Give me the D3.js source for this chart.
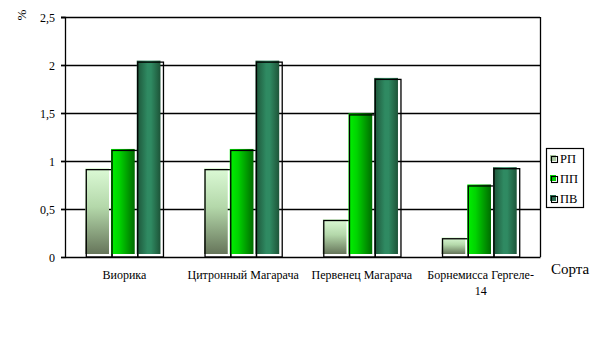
<!DOCTYPE html>
<html><head><meta charset="utf-8">
<script src="https://cdn.jsdelivr.net/npm/d3@7"></script>
<style>body{margin:0;background:#fff}svg{display:block}</style>
</head><body><svg id="c" width="604" height="364"></svg>
<script>
const categories = ["Виорика", "Цитронный Магарача", "Первенец Магарача", "Борнемисса Гергеле-14"];
const seriesNames = ["РП", "ПП", "ПВ"];
const valuesRP = [0.91, 0.91, 0.38, 0.19];
const valuesPP = [1.11, 1.11, 1.48, 0.74];
const valuesPV = [2.03, 2.03, 1.85, 0.92];
const yTicks = [0, 0.5, 1, 1.5, 2, 2.5];
const yTickLabels = ["0", "0,5", "1", "1,5", "2", "2,5"];

const FONT = "'Liberation Serif', 'Times New Roman', 'DejaVu Serif', serif";
const series = [valuesRP, valuesPP, valuesPV];
const svg = d3.select("#c");
const L = 65, R = 540, T = 17, B = 257;
const x = d3.scaleBand().domain(categories).range([L, R]).paddingInner(0.35).paddingOuter(0.175);
const xs = d3.scaleBand().domain(seriesNames).range([0, x.bandwidth()]).padding(0);
const y = d3.scaleLinear().domain([0, 2.5]).range([B, T]);

const defs = svg.append("defs");
const g0 = defs.append("linearGradient").attr("id", "gRP").attr("x1", 0).attr("y1", 0).attr("x2", 0).attr("y2", 1);
[["0%", "#dcfad6"], ["45%", "#b4d8aa"], ["100%", "#66755a"]].forEach(s => g0.append("stop").attr("offset", s[0]).attr("stop-color", s[1]));
const g1 = defs.append("linearGradient").attr("id", "gPP").attr("x1", 0).attr("y1", 0).attr("x2", 1).attr("y2", 0);
[["0%", "#00f200"], ["35%", "#00d400"], ["100%", "#006c00"]].forEach(s => g1.append("stop").attr("offset", s[0]).attr("stop-color", s[1]));
const g2 = defs.append("linearGradient").attr("id", "gPV").attr("x1", 0).attr("y1", 0).attr("x2", 1).attr("y2", 0);
[["0%", "#1d5438"], ["45%", "#2f8a62"], ["60%", "#2f8a62"], ["100%", "#1d5438"]].forEach(s => g2.append("stop").attr("offset", s[0]).attr("stop-color", s[1]));
const fills = ["url(#gRP)", "url(#gPP)", "url(#gPV)"];
const swatchFill = ["#a8c8a0", "#00d000", "#2a6e50"];

svg.append("g").selectAll("line").data(yTicks.slice(1)).join("line")
  .attr("x1", L - 4).attr("x2", R).attr("y1", d => Math.round(y(d)) + 0.5).attr("y2", d => Math.round(y(d)) + 0.5)
  .attr("stroke", "#000").attr("stroke-width", 1.3);
svg.append("line").attr("x1", R + 0.5).attr("x2", R + 0.5).attr("y1", y(2.5)).attr("y2", B).attr("stroke", "#000").attr("stroke-width", 1.3);

categories.forEach((c, ci) => {
  series.forEach((vals, si) => {
    const bx = x(c) + xs(seriesNames[si]);
    const bw = xs.bandwidth();
    const v = vals[ci];
    svg.append("rect").attr("x", bx - 0.5).attr("y", y(v) - 1.5).attr("width", bw - 2).attr("height", (B - 3) - (y(v) - 1.5))
      .attr("fill", fills[si]);
    svg.append("rect").attr("x", bx + 0.5).attr("y", y(v)).attr("width", bw).attr("height", B - y(v))
      .attr("fill", "none").attr("stroke", "#000").attr("stroke-width", 1.3);
  });
});

const yAxis = d3.axisLeft(y).tickValues(yTicks).tickFormat((d, i) => yTickLabels[i]).tickSize(4).tickPadding(6);
const ya = svg.append("g").attr("transform", `translate(${L},0)`).call(yAxis)
  .attr("font-family", FONT).attr("font-size", 12);
ya.select(".domain").attr("stroke", "#000").attr("stroke-width", 1.3);
ya.selectAll(".tick line").attr("stroke", "#000").attr("stroke-width", 1.3);
ya.selectAll(".tick text").attr("font-family", FONT).attr("font-size", 12).attr("fill", "#000").attr("dy", "0.35em");

const xAxis = d3.axisBottom(x).tickSize(0).tickFormat("");
const xa = svg.append("g").attr("transform", `translate(0,${B})`).call(xAxis);
xa.select(".domain").attr("stroke", "#000").attr("stroke-width", 1.3);

const lines = {"Борнемисса Гергеле-14": ["Борнемисса Гергеле-", "14"]};
categories.forEach(c => {
  const ls = lines[c] || [c];
  const t = svg.append("text").attr("x", x(c) + x.bandwidth() / 2).attr("y", 279).attr("text-anchor", "middle")
    .attr("font-family", FONT).attr("font-size", 12);
  ls.forEach((s, i) => t.append("tspan").attr("x", x(c) + x.bandwidth() / 2).attr("dy", i ? 16 : 0).text(s));
});

svg.append("text").attr("x", 570).attr("y", 274).attr("text-anchor", "middle").attr("font-family", FONT).attr("font-size", 15).text("Сорта");
svg.append("text").attr("transform", "translate(26,15) rotate(-90)").attr("text-anchor", "middle").attr("font-family", FONT).attr("font-size", 13).text("%");

svg.append("rect").attr("x", 546.5).attr("y", 148.5).attr("width", 37).attr("height", 59).attr("fill", "#fff").attr("stroke", "#000").attr("stroke-width", 1.2);
seriesNames.forEach((n, i) => {
  const cy = 159 + i * 20;
  svg.append("rect").attr("x", 550).attr("y", cy - 4).attr("width", 6).attr("height", 6).attr("fill", swatchFill[i]);
  svg.append("rect").attr("x", 551.5).attr("y", cy - 2.5).attr("width", 6).attr("height", 6).attr("fill", "none").attr("stroke", "#000").attr("stroke-width", 1.1);
  svg.append("text").attr("x", 560).attr("y", cy + 4).attr("font-family", FONT).attr("font-size", 12.5).text(n);
});
</script></body></html>
